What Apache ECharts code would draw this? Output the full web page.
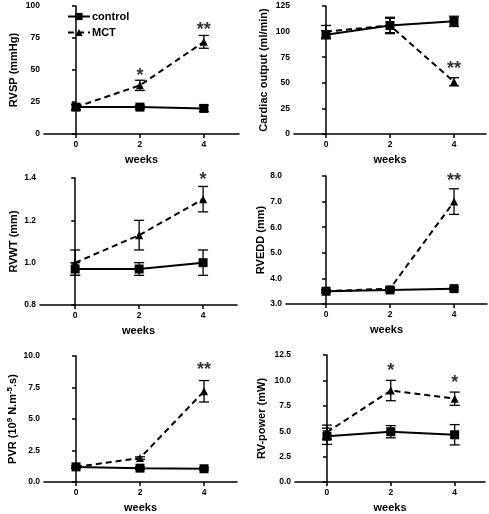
<!DOCTYPE html>
<html><head><meta charset="utf-8">
<script src="https://cdn.jsdelivr.net/npm/echarts@6/dist/echarts.min.js"></script>
<style>html,body{margin:0;padding:0;background:#fff}#c{width:489px;height:514px}</style>
</head><body><div id="c"></div>
<script>
const weeks = [0, 2, 4];
// RVSP (mmHg)
const rvspControl = [21, 21, 20];
const rvspControlErr = [2, 1.5, 2.5];
const rvspMCT = [21, 38, 72];
const rvspMCTErr = [2, 4, 5];
const rvspStars = [[2, 45, '*'], [4, 81, '**']];
// Cardiac output (ml/min)
const coControl = [97, 106, 110];
const coControlErr = [4, 8, 5];
const coMCT = [100, 106, 51];
const coMCTErr = [6, 7, 4];
const coStars = [[4, 63, '**']];
// RVWT (mm)
const rvwtControl = [0.97, 0.97, 1.00];
const rvwtControlErr = [0.03, 0.03, 0.06];
const rvwtMCT = [1.00, 1.13, 1.30];
const rvwtMCTErr = [0.06, 0.07, 0.06];
const rvwtStars = [[4, 1.39, '*']];
// RVEDD (mm)
const rveddControl = [3.5, 3.55, 3.6];
const rveddControlErr = [0.05, 0.05, 0.05];
const rveddMCT = [3.5, 3.6, 7.0];
const rveddMCTErr = [0.05, 0.05, 0.5];
const rveddStars = [[4, 7.8, '**']];
// PVR
const pvrControl = [1.2, 1.1, 1.05];
const pvrControlErr = [0.1, 0.1, 0.1];
const pvrMCT = [1.2, 1.9, 7.2];
const pvrMCTErr = [0.1, 0.1, 0.85];
const pvrStars = [[4, 8.9, '**']];
// RV-power (mW)
const powControl = [4.5, 4.95, 4.65];
const powControlErr = [0.8, 0.6, 1.0];
const powMCT = [4.9, 9.0, 8.2];
const powMCTErr = [0.7, 1.0, 0.65];
const powStars = [[2, 10.9, '*'], [4, 9.7, '*']];

const panels = [
  {grid:{left:44, top:6, width:195, height:128}, xmin:-1, xmax:5.1, ymin:0, ymax:100, yint:25, dec:0, name:'RVSP (mmHg)', gap:25,
   c:rvspControl, ce:rvspControlErr, m:rvspMCT, me:rvspMCTErr, s:rvspStars},
  {grid:{left:294, top:6, width:192, height:128}, xmin:-1, xmax:5, ymin:0, ymax:125, yint:25, dec:0, name:'Cardiac output (ml/min)', gap:25,
   c:coControl, ce:coControlErr, m:coMCT, me:coMCTErr, s:coStars},
  {grid:{left:40, top:178, width:197, height:127}, xmin:-1.1, xmax:5.06, ymin:0.8, ymax:1.4, yint:0.2, dec:1, name:'RVWT (mm)', gap:21,
   c:rvwtControl, ce:rvwtControlErr, m:rvwtMCT, me:rvwtMCTErr, s:rvwtStars},
  {grid:{left:286, top:176, width:201, height:128}, xmin:-1.25, xmax:5.03, ymin:3, ymax:8, yint:1, dec:1, name:'RVEDD (mm)', gap:20,
   c:rveddControl, ce:rveddControlErr, m:rveddMCT, me:rveddMCTErr, s:rveddStars},
  {grid:{left:44, top:356, width:193, height:126}, xmin:-1, xmax:5.03, ymin:0, ymax:10, yint:2.5, dec:1, name:'PVR', gap:25,
   c:pvrControl, ce:pvrControlErr, m:pvrMCT, me:pvrMCTErr, s:pvrStars},
  {grid:{left:295, top:355, width:190, height:127}, xmin:-1, xmax:4.95, ymin:0, ymax:12.5, yint:2.5, dec:1, name:'RV-power (mW)', gap:28,
   c:powControl, ce:powControlErr, m:powMCT, me:powMCTErr, s:powStars}
];

const FONT = 'Liberation Sans, Arial, sans-serif';
function errRender(params, api) {
  const x = api.value(0), y = api.value(1), e = api.value(2);
  const t = api.coord([x, y + e]), b = api.coord([x, y - e]);
  const w = 5;
  const st = {stroke:'#000', lineWidth:1.3};
  return {type:'group', children:[
    {type:'line', shape:{x1:t[0], y1:t[1], x2:b[0], y2:b[1]}, style:st},
    {type:'line', shape:{x1:t[0]-w, y1:t[1], x2:t[0]+w, y2:t[1]}, style:st},
    {type:'line', shape:{x1:b[0]-w, y1:b[1], x2:b[0]+w, y2:b[1]}, style:st}
  ]};
}

const grid = [], xAxis = [], yAxis = [], series = [];
panels.forEach((p, i) => {
  grid.push(Object.assign({containLabel:false}, p.grid));
  xAxis.push({type:'value', gridIndex:i, min:p.xmin, max:p.xmax, name:'weeks', nameLocation:'middle', nameGap:20,
    nameTextStyle:{fontFamily:FONT, fontWeight:'bold', fontSize:11, color:'#000'},
    splitLine:{show:false},
    axisLine:{onZero:false, lineStyle:{color:'#000', width:1.5}},
    axisTick:{customValues:weeks, length:4, lineStyle:{color:'#000', width:1.5}},
    axisLabel:{customValues:weeks, fontFamily:FONT, fontWeight:'bold', fontSize:8.5, color:'#000', margin:6}
  });
  const yname = p.name === 'PVR' ? '{a|PVR (10}{s|9}{a| N.m}{s|-5}{a|.s)}' : p.name;
  yAxis.push({type:'value', gridIndex:i, min:p.ymin, max:p.ymax, interval:p.yint, name:yname, nameLocation:'middle', nameGap:p.gap,
    nameTextStyle:{fontFamily:FONT, fontWeight:'bold', fontSize:11, color:'#000',
      rich:{a:{fontFamily:FONT, fontWeight:'bold', fontSize:11, color:'#000'}, s:{fontFamily:FONT, fontWeight:'bold', fontSize:8, color:'#000', padding:[0,0,5,0]}}},
    splitLine:{show:false},
    axisLine:{show:true, lineStyle:{color:'#000', width:1.5}},
    axisTick:{show:true, length:4, lineStyle:{color:'#000', width:1.5}},
    axisLabel:{fontFamily:FONT, fontWeight:'bold', fontSize:8.5, color:'#000', margin:4,
      formatter: v => v.toFixed(p.dec)}
  });
  series.push({type:'custom', xAxisIndex:i, yAxisIndex:i, renderItem:errRender, z:1,
    data: weeks.map((w, k) => [w, p.m[k], p.me[k]])});
  series.push({type:'custom', xAxisIndex:i, yAxisIndex:i, renderItem:errRender, z:1,
    data: weeks.map((w, k) => [w, p.c[k], p.ce[k]])});
  series.push({type:'line', name:'MCT', xAxisIndex:i, yAxisIndex:i, z:2,
    data: weeks.map((w, k) => [w, p.m[k]]),
    symbol:'triangle', symbolSize:8, itemStyle:{color:'#000'},
    lineStyle:{color:'#000', width:2, type:[6,4]}, animation:false});
  series.push({type:'line', name:'control', xAxisIndex:i, yAxisIndex:i, z:3,
    data: weeks.map((w, k) => [w, p.c[k]]),
    symbol:'rect', symbolSize:9, itemStyle:{color:'#000'},
    lineStyle:{color:'#000', width:2}, animation:false});
  series.push({type:'scatter', xAxisIndex:i, yAxisIndex:i, symbolSize:0, silent:true,
    data: p.s.map(s => ({value:[s[0], s[1]], label:{formatter:s[2]}})),
    label:{show:true, position:'inside', fontFamily:FONT, fontSize:18, fontWeight:'bold', color:'#000'}});
});

const chart = echarts.init(document.getElementById('c'), null, {renderer:'canvas'});
chart.setOption({
  animation:false,
  backgroundColor:'#fff',
  legend:{data:['control','MCT'], orient:'vertical', left:62, top:6, itemWidth:22, itemHeight:9, itemGap:5,
    textStyle:{fontFamily:FONT, fontWeight:'bold', fontSize:11, color:'#000', padding:[0,0,0,-3]}},
  grid, xAxis, yAxis, series
});
</script></body></html>
